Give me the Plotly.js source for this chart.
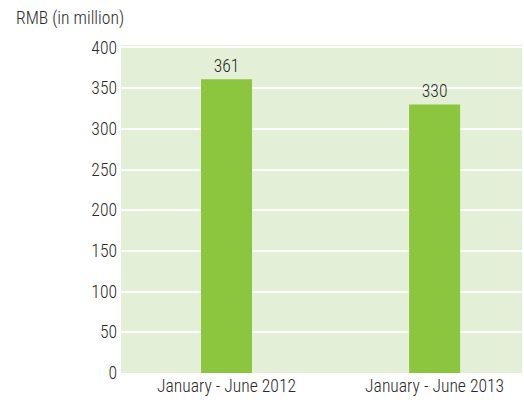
<!DOCTYPE html>
<html><head><meta charset="utf-8">
<script src="https://cdn.plot.ly/plotly-3.0.1.min.js"></script>
<style>html,body{margin:0;padding:0;background:#fff;}#c{width:524px;height:404px;}</style>
</head><body><div id="c"></div>
<script>
const categories = ["January - June 2012", "January - June 2013"];
const values = [361, 330];
const labels = ["361", "330"];
const yTicks = [0, 50, 100, 150, 200, 250, 300, 350, 400];

const font = {family: "Roboto Condensed, Liberation Sans, Arial, sans-serif", size: 17.6, color: "#2a2a2a", weight: 300};

Plotly.newPlot("c", [{
  type: "bar", x: categories, y: values, text: labels, textposition: "outside",
  textfont: font, cliponaxis: false, width: 0.245,
  marker: {color: "#8cc63f"}, hoverinfo: "none"
}], {
  width: 524, height: 404,
  margin: {l: 121, r: 2, t: 45, b: 31, pad: 0},
  paper_bgcolor: "#ffffff", plot_bgcolor: "#e3efd6",
  font: font, showlegend: false,
  xaxis: {type: "category", range: [-0.507, 1.42], showgrid: false, zeroline: false, showline: false, ticks: "", tickfont: font},
  yaxis: {range: [0, 403], tickvals: yTicks, ticktext: yTicks.map(String), gridcolor: "#ffffff", gridwidth: 2, zeroline: false, showline: false, ticks: "", ticklen: 0, tickfont: font, ticklabelstandoff: 3},
  annotations: [{text: "RMB (in million)", xref: "paper", yref: "paper", x: -0.267, y: 1.0, yshift: 27, xanchor: "left", yanchor: "middle", showarrow: false, font: font}]
}, {staticPlot: true});
</script></body></html>
